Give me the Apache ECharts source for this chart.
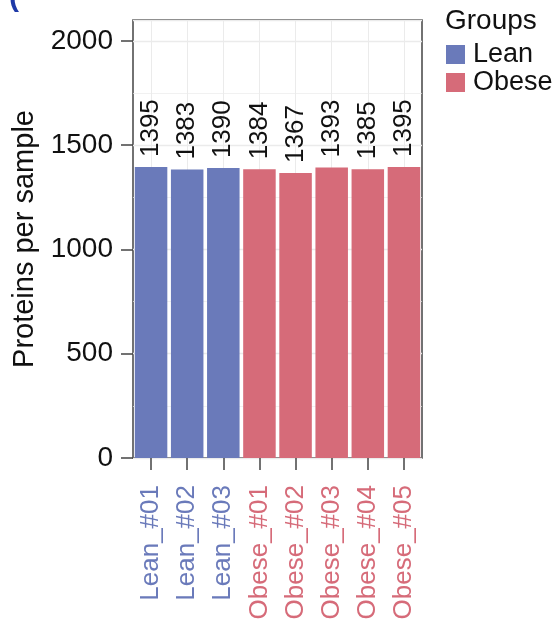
<!DOCTYPE html>
<html>
<head>
<meta charset="utf-8">
<script src="https://cdn.jsdelivr.net/npm/echarts@6/dist/echarts.min.js"></script>
<style>
  html, body { margin: 0; padding: 0; background: #fff; }
  #chart { width: 553px; height: 625px; }
</style>
</head>
<body>
<div id="chart"></div>
<script>
// samples, their group and protein counts
const samples = ['Lean_#01', 'Lean_#02', 'Lean_#03', 'Obese_#01', 'Obese_#02', 'Obese_#03', 'Obese_#04', 'Obese_#05'];
const groups = ['Lean', 'Lean', 'Lean', 'Obese', 'Obese', 'Obese', 'Obese', 'Obese'];
const proteins = [1395, 1383, 1390, 1384, 1367, 1393, 1385, 1395];
const groupNames = ['Lean', 'Obese'];
const minorGrid = [250, 750, 1250, 1750];

const colors = { Lean: '#6a7aba', Obese: '#d66b79' };
const font = 'Liberation Sans, Arial, sans-serif';

const chart = echarts.init(document.getElementById('chart'), null, { renderer: 'canvas' });

const barSeries = groupNames.map(g => ({
  name: g,
  type: 'bar',
  barWidth: '90%',
  barGap: '-100%',
  z: 3,
  itemStyle: { color: colors[g] },
  label: {
    show: true,
    position: 'top',
    rotate: 90,
    align: 'left',
    verticalAlign: 'middle',
    distance: 10,
    fontSize: 26,
    fontFamily: font,
    color: '#111'
  },
  data: proteins.map((v, i) => groups[i] === g ? v : '-')
}));

// background grid lines like ggplot (centre of each bar + minor horizontals)
const gridSeries = {
  type: 'line',
  data: [],
  z: 1,
  silent: true,
  markLine: {
    z: 1,
    silent: true,
    symbol: 'none',
    animation: false,
    label: { show: false },
    lineStyle: { color: '#ebebeb', type: 'solid', width: 1 },
    data: samples.map(s => ({ xAxis: s })).concat(minorGrid.map(v => ({ yAxis: v, lineStyle: { width: 0.7 } })))
  }
};

const option = {
  animation: false,
  backgroundColor: '#fff',
  title: [{
    text: 'Groups',
    left: 440,
    top: 2,
    textStyle: { fontSize: 28, fontWeight: 'normal', fontFamily: font, color: '#111' }
  }, {
    text: '(',
    left: 4,
    top: -22,
    textStyle: { fontSize: 30, fontWeight: 'bold', fontFamily: font, color: '#1f3aa8' }
  }],
  legend: {
    data: groupNames,
    orient: 'vertical',
    left: 441,
    top: 36,
    itemWidth: 19,
    itemHeight: 19,
    itemGap: 1,
    icon: 'rect',
    textStyle: { fontSize: 27, fontFamily: font, color: '#111', lineHeight: 26, padding: [0, 0, 0, 3] }
  },
  grid: {
    left: 133,
    right: 131,
    top: 20,
    bottom: 167,
    show: true,
    backgroundColor: '#fff',
    borderColor: '#444',
    borderWidth: 1.5
  },
  xAxis: {
    type: 'category',
    data: samples,
    axisLine: { show: false },
    axisTick: { show: true, alignWithLabel: true, length: 12, lineStyle: { color: '#444', width: 1.5 } },
    splitLine: { show: false },
    axisLabel: {
      rotate: 90,
      margin: 27,
      fontSize: 26,
      fontFamily: font,
      color: (v, i) => colors[groups[samples.indexOf(v)]]
    }
  },
  yAxis: {
    type: 'value',
    min: 0,
    max: 2100,
    interval: 500,
    name: 'Proteins per sample',
    nameLocation: 'middle',
    nameGap: 94,
    nameTextStyle: { fontSize: 29, fontFamily: font, color: '#111' },
    axisLine: { show: false },
    axisTick: { show: true, length: 12, lineStyle: { color: '#444', width: 1.5 } },
    axisLabel: { margin: 20, fontSize: 28, fontFamily: font, color: '#111', showMaxLabel: false, formatter: v => String(v) },
    splitLine: { show: true, lineStyle: { color: '#ebebeb', width: 1.3 } }
  },
  series: [gridSeries].concat(barSeries)
};

chart.setOption(option);
</script>
</body>
</html>
